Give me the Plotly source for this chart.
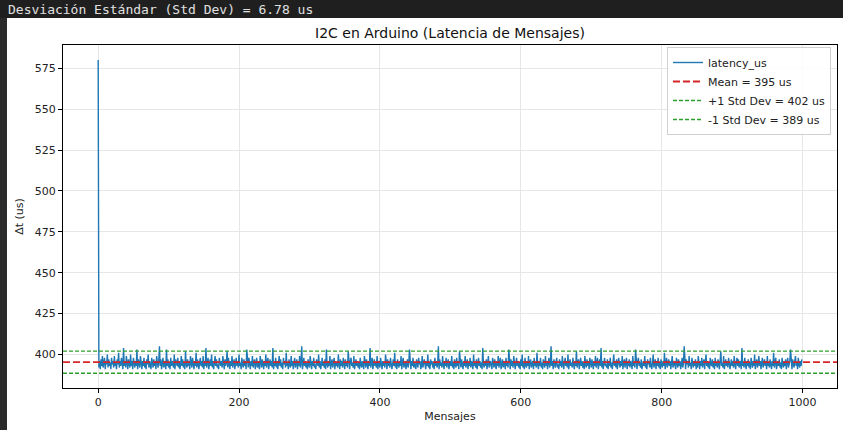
import plotly.graph_objects as go

# latency samples (us), one per message
latency_us = [
    580, 392, 396, 391, 397, 393, 399, 392, 395, 398, 391, 396, 394, 400, 392, 397, 393, 395, 391, 398, 394, 396, 392, 399, 393,
    395, 391, 397, 394, 401, 392, 396, 393, 398, 395, 391, 404, 393, 396, 392, 399, 394, 391, 397, 395, 392, 400, 393, 396, 391,
    398, 394, 392, 396, 393, 403, 391, 397, 395, 392, 399, 394, 391, 396, 393, 398, 392, 395, 391, 397, 394, 400, 392, 396, 393,
    391, 398, 395, 392, 397, 393, 396, 391, 399, 394, 392, 396, 405, 393, 397, 391, 395, 398, 392, 394, 396, 391, 403, 393, 397,
    392, 395, 391, 398, 393, 396, 394, 392, 400, 391, 397, 395, 393, 398, 392, 396, 391, 394, 399, 393, 397, 392, 395, 391, 402,
    394, 392, 397, 393, 396, 391, 399, 395, 392, 398, 394, 391, 396, 393, 401, 392, 397, 394, 391, 395, 398, 393, 396, 392, 399,
    391, 396, 393, 404, 392, 395, 398, 391, 394, 397, 393, 400, 392, 396, 391, 395, 399, 393, 397, 392, 394, 391, 398, 395, 393,
    396, 392, 399, 394, 391, 397, 393, 395, 402, 392, 398, 394, 391, 396, 393, 399, 392, 395, 397, 391, 394, 398, 393, 396, 392,
    400, 393, 395, 391, 398, 394, 392, 397, 393, 396, 391, 403, 395, 392, 398, 394, 391, 396, 393, 399, 392, 395, 397, 391, 394,
    398, 392, 396, 393, 391, 399, 395, 392, 397, 394, 391, 396, 393, 400, 392, 395, 398, 391, 394, 397, 393, 396, 392, 404, 391,
    395, 393, 398, 392, 396, 391, 394, 399, 393, 397, 392, 395, 391, 398, 394, 396, 392, 401, 393, 395, 391, 397, 394, 392, 399,
    393, 396, 391, 395, 398, 392, 394, 397, 391, 396, 393, 399, 392, 395, 405, 391, 394, 398, 393, 396, 392, 395, 391, 397, 394,
    392, 399, 395, 391, 396, 393, 398, 392, 394, 391, 397, 395, 393, 400, 392, 396, 391, 394, 398, 393, 395, 392, 397, 391, 403,
    394, 392, 396, 393, 399, 391, 395, 397, 392, 394, 398, 391, 396, 393, 395, 392, 400, 394, 391, 397, 393, 396, 392, 398, 395,
    391, 397, 393, 395, 392, 402, 394, 391, 396, 398, 393, 395, 392, 399, 391, 394, 397, 393, 396, 392, 395, 391, 398, 394, 392,
    396, 393, 391, 399, 395, 392, 397, 394, 391, 396, 393, 404, 392, 395, 398, 391, 394, 397, 393, 395, 392, 399, 391, 396, 394,
    392, 398, 394, 391, 396, 393, 395, 392, 400, 394, 391, 397, 393, 396, 392, 398, 395, 391, 394, 397, 393, 401, 392, 395, 391,
    397, 394, 392, 396, 393, 399, 391, 395, 398, 392, 394, 396, 391, 393, 397, 392, 395, 403, 394, 391, 396, 393, 398, 392, 395,
    393, 391, 397, 395, 392, 398, 394, 396, 391, 393, 399, 392, 395, 397, 394, 391, 396, 393, 400, 392, 395, 391, 397, 394, 396,
    392, 395, 391, 398, 393, 396, 392, 394, 405, 391, 397, 393, 395, 392, 399, 394, 391, 396, 393, 398, 392, 395, 397, 391, 394,
    396, 393, 399, 392, 395, 391, 397, 394, 392, 398, 393, 396, 391, 402, 394, 392, 397, 395, 391, 396, 393, 399, 392, 394, 397,
    391, 395, 393, 398, 392, 396, 394, 391, 400, 393, 395, 392, 397, 391, 394, 398, 393, 396, 392, 395, 391, 404, 394, 392, 396,
    393, 397, 391, 395, 399, 392, 394, 396, 393, 391, 398, 395, 392, 397, 394, 391, 396, 393, 399, 392, 395, 398, 391, 394, 397,
    392, 396, 394, 391, 398, 393, 395, 392, 403, 394, 391, 397, 393, 396, 392, 399, 395, 391, 394, 398, 393, 396, 392, 395, 391,
    397, 393, 400, 392, 395, 391, 398, 394, 392, 396, 393, 399, 391, 395, 397, 392, 394, 396, 391, 398, 393, 395, 392, 401, 394,
    391, 396, 393, 398, 392, 395, 391, 397, 394, 392, 399, 393, 396, 391, 395, 398, 392, 394, 405, 393, 396, 391, 397, 394, 392,
    395, 398, 392, 394, 391, 397, 393, 396, 392, 399, 394, 391, 395, 398, 393, 396, 392, 400, 391, 394, 397, 393, 395, 392, 398,
    394, 391, 396, 393, 402, 392, 395, 397, 391, 394, 398, 393, 396, 392, 395, 391, 399, 394, 392, 397, 393, 396, 391, 398, 395,
    392, 397, 394, 391, 396, 393, 399, 392, 395, 398, 391, 394, 397, 393, 404, 392, 396, 391, 395, 398, 393, 394, 392, 397, 391,
    396, 393, 398, 392, 395, 391, 394, 400, 393, 396, 392, 397, 391, 395, 398, 394, 392, 396, 393, 399, 391, 395, 397, 392, 394,
    398, 391, 395, 393, 397, 392, 396, 394, 391, 399, 393, 395, 392, 403, 394, 391, 396, 398, 393, 395, 392, 397, 391, 394, 396,
    393, 399, 392, 395, 391, 397, 394, 396, 392, 398, 393, 391, 395, 400, 392, 394, 397, 391, 396, 393, 398, 392, 395, 391, 397,
    394, 392, 396, 393, 401, 391, 395, 398, 392, 394, 397, 393, 396, 391, 395, 399, 392, 394, 396, 393, 391, 398, 395, 392, 397,
    393, 396, 391, 394, 398, 392, 395, 405, 393, 391, 397, 394, 396, 392, 399, 393, 395, 391, 398, 394, 392, 396, 393, 397, 391,
    395, 392, 399, 394, 391, 396, 393, 398, 392, 395, 397, 391, 394, 400, 393, 396, 392, 395, 391, 398, 394, 393, 397, 392, 396,
    391, 398, 393, 395, 392, 397, 394, 391, 396, 402, 393, 395, 392, 399, 391, 394, 397, 393, 396, 392, 398, 395, 391, 394, 397,
    393, 396, 392, 399, 394, 391, 395, 398, 393, 397, 392, 394, 396, 391, 404, 393, 395, 392, 398, 394, 391, 396, 393, 397, 392,
    395, 391, 398, 394, 392, 396, 393, 400, 391, 395, 397, 392, 394, 399, 393, 396, 391, 395, 398, 392, 394, 397, 393, 396, 391,
    399, 393, 395, 392, 397, 394, 391, 396, 393, 401, 392, 395, 398, 391, 394, 396, 393, 397, 392, 395, 391, 398, 394, 392, 396,
    393, 397, 391, 395, 398, 392, 394, 396, 403, 393, 391, 397, 394, 392, 396, 399, 393, 395, 391, 398, 394, 392, 396, 393, 397,
]
msg_idx = list(range(len(latency_us)))

# stats printed in the notebook output
mean_us = 395.3
std_us = 6.78

x_range = [-49.95, 1048.95]
y_range = [379.5, 589.2]
x_ticks = [0, 200, 400, 600, 800, 1000]
y_ticks = [400, 425, 450, 475, 500, 525, 550, 575]

W, H = 843, 430
ml, mr, mt, mb = 63, 6, 45, 42
pw, ph = W - ml - mr, H - mt - mb

def px_x(p):
    return (p - ml) / pw

def px_y(p):
    return (H - mb - p) / ph

fig = go.Figure()
fig.add_trace(go.Scatter(x=msg_idx, y=latency_us, mode="lines", name="latency_us",
                         line=dict(color="#1f77b4", width=1.4)))
fig.add_trace(go.Scatter(x=x_range, y=[mean_us, mean_us], mode="lines",
                         name=f"Mean = {mean_us:.0f} us",
                         line=dict(color="#d62728", width=1.8, dash="7px,3px")))
fig.add_trace(go.Scatter(x=x_range, y=[mean_us + std_us] * 2, mode="lines",
                         name=f"+1 Std Dev = {mean_us + std_us:.0f} us",
                         line=dict(color="#2ca02c", width=1.3, dash="4px,2px")))
fig.add_trace(go.Scatter(x=x_range, y=[mean_us - std_us] * 2, mode="lines",
                         name=f"-1 Std Dev = {mean_us - std_us:.0f} us",
                         line=dict(color="#2ca02c", width=1.3, dash="4px,2px")))

# notebook chrome: dark output bar on top and thin strip on the left
fig.add_shape(type="rect", xref="paper", yref="paper", layer="below",
              x0=px_x(0), x1=px_x(W), y0=px_y(18), y1=px_y(0),
              fillcolor="#1f1f1f", line_width=0)
fig.add_shape(type="rect", xref="paper", yref="paper", layer="below",
              x0=px_x(0), x1=px_x(7), y0=px_y(H), y1=px_y(18),
              fillcolor="#2b2b2b", line_width=0)
fig.add_annotation(text="Desviación Estándar (Std Dev) = 6.78 us",
                   xref="paper", yref="paper", x=px_x(6), y=px_y(9),
                   xanchor="left", yanchor="middle", showarrow=False,
                   font=dict(family="DejaVu Sans Mono", size=13, color="#e0e0e0"))

axis_common = dict(showline=True, linecolor="black", linewidth=1, mirror=True,
                   ticks="outside", ticklen=4, tickcolor="black",
                   showgrid=True, gridcolor="#e6e6e6", gridwidth=1, zeroline=False,
                   tickfont=dict(family="DejaVu Sans", size=11, color="#222"))

fig.update_layout(
    width=W, height=H,
    margin=dict(l=ml, r=mr, t=mt, b=mb),
    paper_bgcolor="white", plot_bgcolor="white",
    font=dict(family="DejaVu Sans", size=11, color="#222"),
    title=dict(text="I2C en Arduino (Latencia de Mensajes)", x=px_x(450), xref="paper",
               xanchor="center", y=1 - 33 / H, yanchor="middle",
               font=dict(family="DejaVu Sans", size=14, color="#111")),
    xaxis=dict(range=x_range, tickvals=x_ticks,
               title=dict(text="Mensajes", standoff=4, font=dict(size=11)), **axis_common),
    yaxis=dict(range=y_range, tickvals=y_ticks,
               title=dict(text="Δt (us)", standoff=8, font=dict(size=11)), **axis_common),
    legend=dict(x=px_x(831), y=px_y(47), xanchor="right", yanchor="top",
                bgcolor="rgba(255,255,255,0.85)", bordercolor="#d0d0d0", borderwidth=1,
                font=dict(family="DejaVu Sans", size=11, color="#222"),
                itemwidth=30, tracegroupgap=0),
    showlegend=True,
)

# drop the browser's default 8px body margin so the figure sits at the page corner
fig.write_html("out.html", config={"displayModeBar": False},
               post_script="document.body.style.margin='0';")
